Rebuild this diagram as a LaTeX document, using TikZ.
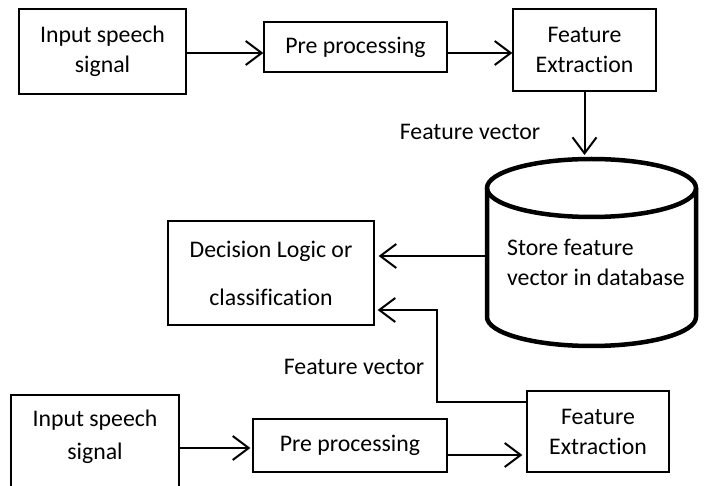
\documentclass[tikz,border=0pt]{standalone}
\usepackage{fontspec}
\setmainfont[RawFeature={-liga}]{Carlito}
\usetikzlibrary{arrows.meta}
\tikzset{
  box/.style={draw, line width=1.2pt, inner sep=0pt, align=center, font=\fontsize{23.8}{30}\selectfont},
  lbl/.style={inner sep=0pt, font=\fontsize{23.8}{30}\selectfont},
  arr/.style={line width=2pt, -{Straight Barb[length=16pt, width=24pt, line width=2pt]}},
  db/.style={line width=4.5pt}
}
\begin{document}
\begin{tikzpicture}[x=1pt,y=-1pt]
\useasboundingbox (0,0) rectangle (705,486);
% top row
\node[box, minimum width=167pt, minimum height=85pt] (in1) at (102.5,51.5) {Input speech\\signal};
\node[box, minimum width=183pt, minimum height=50pt] (pp1) at (355.5,47) {Pre processing};
\node[box, minimum width=143pt, minimum height=82pt] (fe1) at (584.5,50) {Feature\\Extraction};
\draw[arr] ([yshift=-1.5pt]in1.east) -- ([yshift=-1.5pt]in1.east -| pp1.west);
\draw[arr] ([yshift=-6pt]pp1.east) -- ([yshift=-6pt]pp1.east -| fe1.west);
% database
\draw[db] (591.5,188) ellipse [x radius=104.5, y radius=29];
\draw[db] (487,188) -- (487,317) arc [start angle=180, end angle=0, x radius=104.5, y radius=29] -- (696,188);
\node[lbl, anchor=west, align=left] (dbt) at (507,262) {Store feature\\vector in database};
\coordinate (dbtop) at (584.5,157);
\coordinate (dbleft) at (485,256);
\draw[arr, shorten >=2pt] (fe1.south) -- (dbtop);
\node[lbl] (fv1) at (470,132) {Feature vector};
% decision
\node[box, minimum width=206pt, minimum height=104pt, font=\fontsize{23.8}{48}\selectfont] (dec) at (271,273) {Decision Logic or\\classification};
\draw[arr, shorten >=4pt] (dbleft) -- (dbleft -| dec.east);
% bottom row
\draw[line width=1.2pt] (11,486) -- (11,395) -- (179,395) -- (179,486);
\node[lbl, align=center, font=\fontsize{23.8}{33}\selectfont] (in2) at (95,436.5) {Input speech\\signal};
\coordinate (in2e) at (179,448);
\node[box, minimum width=194pt, minimum height=53pt] (pp2) at (350,445.5) {Pre processing};
\node[box, minimum width=142pt, minimum height=81pt] (fe2) at (598,431.5) {Feature\\Extraction};
\draw[arr, shorten >=2pt] (in2e) -- (in2e -| pp2.west);
\draw[arr, shorten >=4pt] ([yshift=-9.5pt]pp2.east) -- ([yshift=-9.5pt]pp2.east -| fe2.west);
\coordinate (bend) at (437,310);
\draw[arr, line width=1.6pt, shorten >=3pt] ([yshift=29.5pt]fe2.west) -| (bend) -- (bend -| dec.east);
\node[lbl] (fv2) at (354,367) {Feature vector};
\end{tikzpicture}
\end{document}
